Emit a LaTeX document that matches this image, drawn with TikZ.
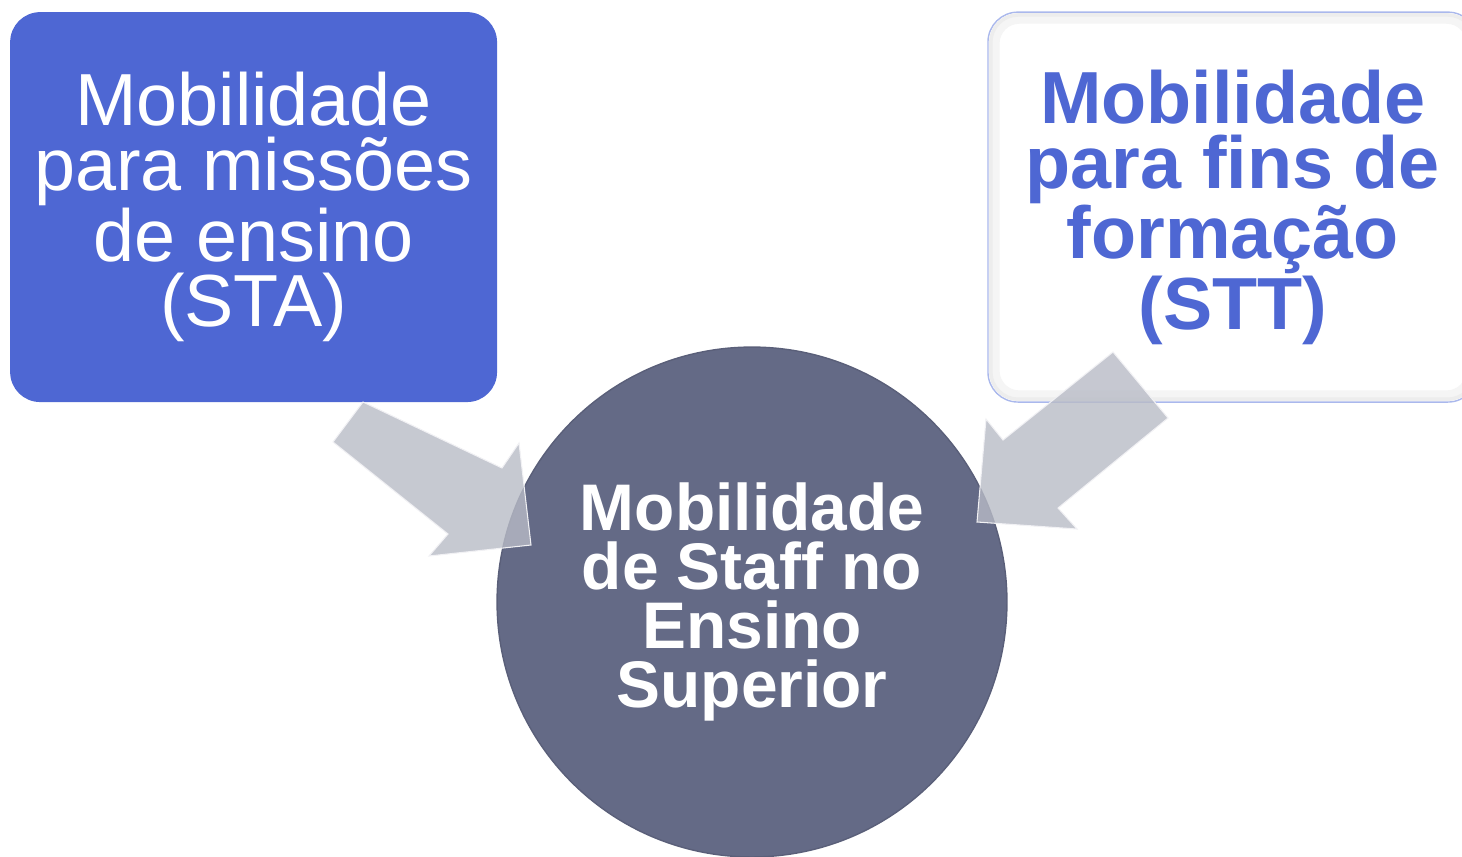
\documentclass[tikz,border=0pt]{standalone}
\usepackage{fontspec}
\setmainfont{Liberation Sans}
\usepackage{tikz}
\usetikzlibrary{positioning}
\definecolor{stablue}{HTML}{4E67D3}
\definecolor{staffgray}{HTML}{646A86}
\definecolor{arrowgray}{HTML}{B8BBC6}
\definecolor{sttedge}{HTML}{AAB8EC}
\tikzset{
    box/.style={
           rectangle,
           rounded corners=0.6cm,
           minimum width=9.74cm,
           minimum height=7.8cm,
           inner sep=0pt,
           align=center,
           font={\fontsize{42pt}{37pt}\selectfont},
           },
    blockarrow/.style={
           fill=arrowgray, fill opacity=0.8,
           draw=white!80!arrowgray, line width=0.6pt,
           line join=miter,
           },
}

\begin{document}
\begin{tikzpicture}[x=0.02cm,y=-0.02cm]
\useasboundingbox (0,0) rectangle (1462,856);

% Centre: staff mobility
\node[circle, minimum size=10.2cm, inner sep=0pt, fill=staffgray, draw=staffgray!90!black, line width=0.8pt, text=white, align=center, font={\fontsize{37.5pt}{33.5pt}\selectfont\bfseries}] (STAFF) at (752,602) {Mobilidade\\de Staff no\\Ensino\\Superior};

% Box: teaching assignments
\node[box, left of=STAFF, node distance=9.97cm, anchor=center, yshift=7.9cm, fill=stablue, text=white] (STA) {Mobilidade\\para missões\\de ensino\\(STA)};

% Box: training
\node[box, right of=STAFF, node distance=9.62cm, anchor=center, yshift=7.9cm, minimum width=9.8cm, fill=white, draw=sttedge, line width=0.8pt, text=stablue, font={\fontsize{42pt}{37pt}\selectfont\bfseries}] (STT) {Mobilidade\\para fins de\\formação\\(STT)};
\draw[black!4, line width=6pt, rounded corners=0.5cm] ([xshift=4pt,yshift=-4pt]STT.north west) rectangle ([xshift=-4pt,yshift=4pt]STT.south east);
\draw[black!7, line width=2pt, rounded corners=0.55cm] ([xshift=2pt,yshift=-2pt]STT.north west) rectangle ([xshift=-2pt,yshift=2pt]STT.south east);

% Arrows into the circle
\draw[blockarrow] (333,442) -- (363,402) -- (502,468) -- (519,443) -- (531,545) -- (429,556) -- (448,534) -- cycle;
\draw[blockarrow] (1113,352) -- (1168,418) -- (1058,508) -- (1077,529) -- (977,522) -- (986,419) -- (1003,440) -- cycle;

\end{tikzpicture}
\end{document}
